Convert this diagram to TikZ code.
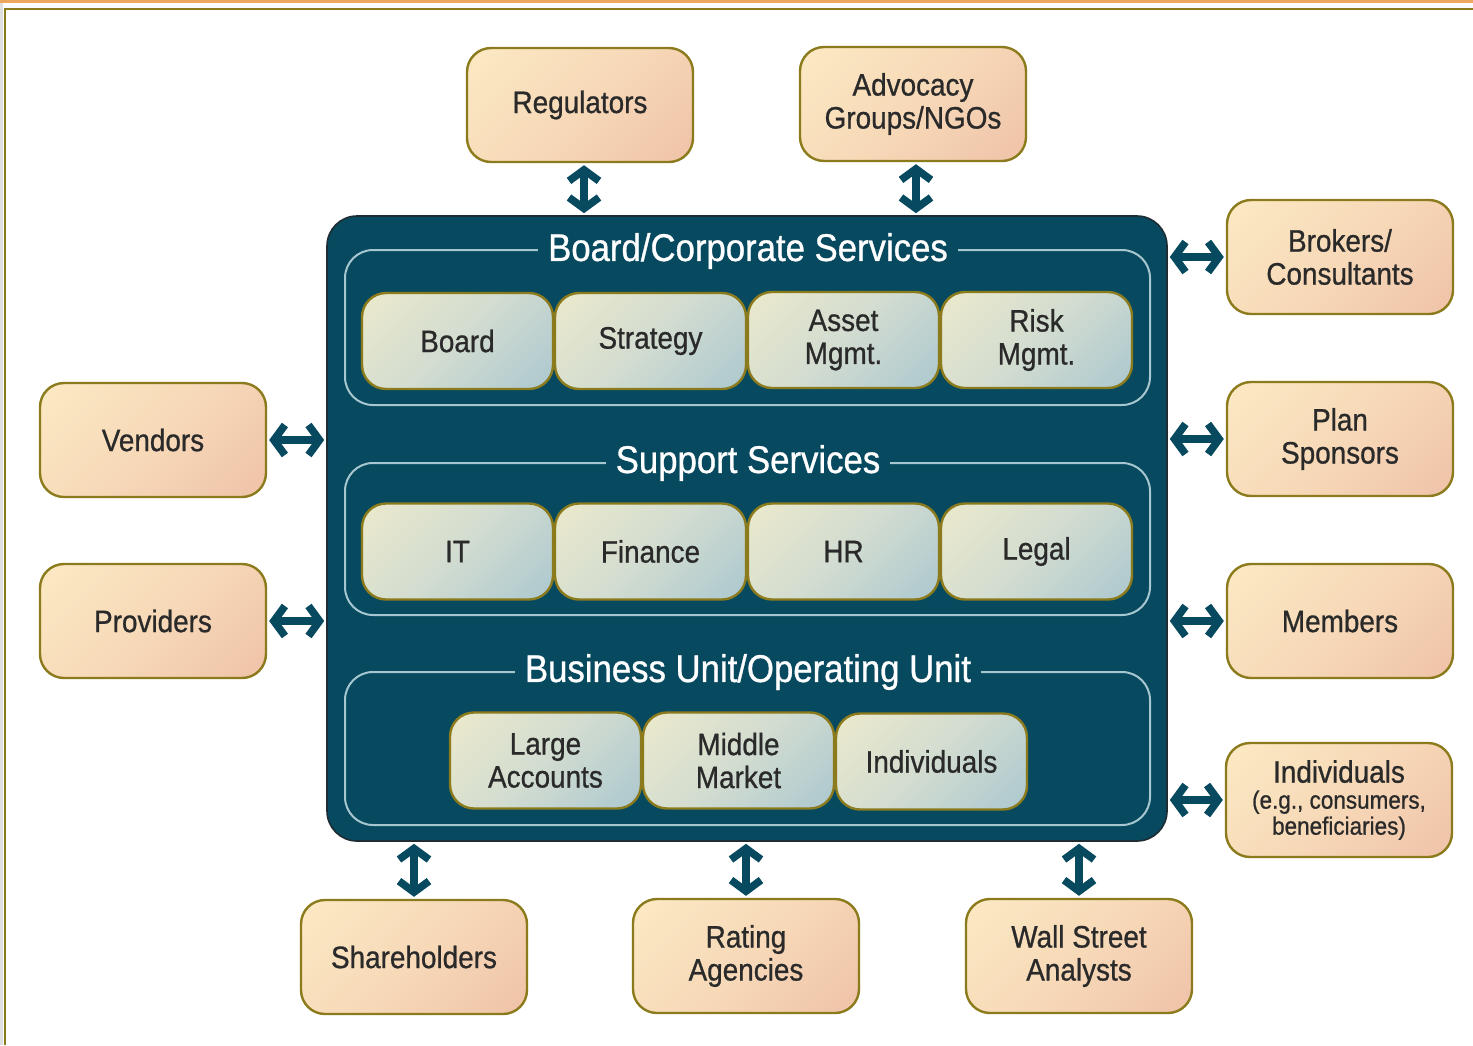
\documentclass[tikz,border=0pt]{standalone}
\usepackage{fontspec}
\setmainfont{Liberation Sans}[FakeStretch=0.9, FakeBold=0.8]
\usetikzlibrary{arrows.meta}
\definecolor{corecol}{HTML}{07495F}
\definecolor{coreedge}{HTML}{1E2C33}
\definecolor{framecol}{HTML}{A6C6D0}
\definecolor{olivecol}{HTML}{8C7B1C}
\definecolor{txtcol}{HTML}{2A2A2A}
\definecolor{peachA}{HTML}{FDF0C8}
\definecolor{peachM}{HTML}{F7D9B8}
\definecolor{peachB}{HTML}{ECB9A2}
\definecolor{blueA}{HTML}{F6EFCB}
\definecolor{blueM}{HTML}{D2DCD0}
\definecolor{blueB}{HTML}{9BBFCF}
\pgfdeclarehorizontalshading{peachshade}{100bp}{color(0bp)=(peachA); color(50bp)=(peachM); color(100bp)=(peachB)}
\pgfdeclarehorizontalshading{blueshade}{100bp}{color(0bp)=(blueA); color(50bp)=(blueM); color(100bp)=(blueB)}
\tikzset{
  ext/.style={draw=olivecol, line width=1.2pt, rounded corners=12pt, shade, shading=peachshade, shading angle=-45,
    minimum width=113pt, minimum height=57pt, align=center, text=txtcol, inner sep=2pt,
    font=\fontsize{15.5}{16.5}\selectfont},
  inn/.style={draw=olivecol, line width=1.2pt, rounded corners=12pt, shade, shading=blueshade, shading angle=-45,
    minimum width=95.5pt, minimum height=48pt, align=center, text=txtcol, inner sep=2pt,
    font=\fontsize{15.5}{16.5}\selectfont},
  frm/.style={draw=framecol, line width=1pt, rounded corners=14pt, minimum width=402.5pt},
  ttl/.style={fill=corecol, text=white, font=\fontsize{19.3}{20}\selectfont, inner xsep=5pt, inner ysep=1pt},
  biarrow/.style={draw=corecol, line width=3.8pt, shorten <=1pt, shorten >=1pt,
    {Straight Barb[length=5.5pt,width=15pt]}-{Straight Barb[length=5.5pt,width=15pt]}}
}
\begin{document}
\begin{tikzpicture}[x=0.5pt,y=-0.5pt]
\useasboundingbox (0,0) rectangle (1473,1045);
\fill[white] (0,0) rectangle (1473,1045);
\fill[gray!25] (0,0) rectangle (3,1045);
\fill[orange!60!brown!70] (0,0) rectangle (1473,3);
\draw[olivecol, line width=1pt] (5,1045) -- (5,9) -- (1473,9);

% core
\node[draw=coreedge, line width=0.8pt, fill=corecol, rounded corners=15pt, minimum width=420pt, minimum height=312.5pt] (core) at (747,528.5) {};

% frames
\node[frm, minimum height=77.5pt] (f1) at (747.5,327.5) {};
\node[frm, minimum height=76pt] (f2) at (747.5,539) {};
\node[frm, minimum height=76.5pt] (f3) at (747.5,748.5) {};
\node[ttl] (t1) at (748,251) {Board/Corporate Services};
\node[ttl] (t2) at (748,463) {Support Services};
\node[ttl] (t3) at (748,672) {Business Unit/Operating Unit};

% inner boxes
\node[inn] (board) at (457.5,341) {Board};
\node[inn] (strat) at (650.5,341) {Strategy};
\node[inn] (asset) at (843.5,340) {Asset\\Mgmt.};
\node[inn] (risk) at (1036.5,340) {Risk\\Mgmt.};
\node[inn] (it) at (457.5,551.5) {IT};
\node[inn] (fin) at (650.5,551.5) {Finance};
\node[inn] (hr) at (843.5,551.5) {HR};
\node[inn] (legal) at (1036.5,551.5) {Legal};
\node[inn] (large) at (545.5,760.5) {Large\\Accounts};
\node[inn] (middle) at (738.5,760.5) {Middle\\Market};
\node[inn] (indiv) at (931.5,761.5) {Individuals};

% outer boxes
\node[ext] (reg) at (580,105) {Regulators};
\node[ext] (adv) at (913,104) {Advocacy\\Groups/NGOs};
\node[ext] (brk) at (1340,257) {Brokers/\\Consultants};
\node[ext] (plan) at (1340,439) {Plan\\Sponsors};
\node[ext] (mem) at (1340,621) {Members};
\node[ext, font=\fontsize{12.5}{13}\selectfont] (ind) at (1339,800) {{\fontsize{15.5}{13}\selectfont Individuals}\\(e.g., consumers,\\beneficiaries)};
\node[ext] (ven) at (153,440) {Vendors};
\node[ext] (prov) at (153,621) {Providers};
\node[ext] (share) at (414,957) {Shareholders};
\node[ext] (rate) at (746,956) {Rating\\Agencies};
\node[ext] (wall) at (1079,956) {Wall Street\\Analysts};

% arrows
\draw[biarrow] ([xshift=2pt]reg.south) -- ([xshift=2pt]reg.south |- core.north);
\draw[biarrow] ([xshift=1.5pt]adv.south) -- ([xshift=1.5pt]adv.south |- core.north);
\draw[biarrow] (brk.west) -- (brk.west -| core.east);
\draw[biarrow] (plan.west) -- (plan.west -| core.east);
\draw[biarrow] (mem.west) -- (mem.west -| core.east);
\draw[biarrow] (ind.west) -- (ind.west -| core.east);
\draw[biarrow] (ven.east) -- (ven.east -| core.west);
\draw[biarrow] (prov.east) -- (prov.east -| core.west);
\draw[biarrow] (share.north) -- (share.north |- core.south);
\draw[biarrow] (rate.north) -- (rate.north |- core.south);
\draw[biarrow] (wall.north) -- (wall.north |- core.south);
\end{tikzpicture}
\end{document}
